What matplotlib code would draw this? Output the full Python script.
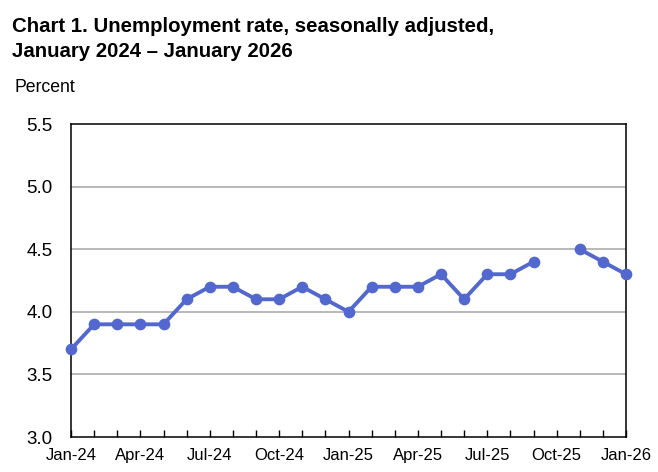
#!/usr/bin/env python3

import numpy as np
import matplotlib.pyplot as plt

plt.rc('font', family=['Liberation Sans', 'DejaVu Sans'])

# monthly unemployment rate, Jan 2024 .. Jan 2026 (Oct 2025 not published)
months = ['Jan-24', 'Feb-24', 'Mar-24', 'Apr-24', 'May-24', 'Jun-24',
          'Jul-24', 'Aug-24', 'Sep-24', 'Oct-24', 'Nov-24', 'Dec-24',
          'Jan-25', 'Feb-25', 'Mar-25', 'Apr-25', 'May-25', 'Jun-25',
          'Jul-25', 'Aug-25', 'Sep-25', 'Oct-25', 'Nov-25', 'Dec-25',
          'Jan-26']
rate = [3.7, 3.9, 3.9, 3.9, 3.9, 4.1,
        4.2, 4.2, 4.1, 4.1, 4.2, 4.1,
        4.0, 4.2, 4.2, 4.2, 4.3, 4.1,
        4.3, 4.3, 4.4, np.nan, 4.5, 4.4,
        4.3]
yticks = [3.0, 3.5, 4.0, 4.5, 5.0, 5.5]

W, H = 658, 472
fig = plt.figure(figsize=(W / 100, H / 100), dpi=100)

# plot box in pixel coords
left, right, top, bottom = 71, 626, 124, 437
ax = fig.add_axes([left / W, (H - bottom) / H, (right - left) / W, (bottom - top) / H])

x = np.arange(len(months))
ax.plot(x, rate, color='#5268CE', lw=2.8, marker='o', markersize=7.4,
        solid_capstyle='round', zorder=3, clip_on=False)

ax.set_xlim(0, len(months) - 1)
ax.set_ylim(3.0, 5.5)
ax.set_yticks(yticks)
ax.set_yticklabels(['{:.1f}'.format(v) for v in yticks], fontsize=13.5)
ax.tick_params(axis='y', length=0, pad=13)
ax.set_xticks(x)
ax.set_xticklabels([m if i % 3 == 0 else '' for i, m in enumerate(months)], fontsize=12)
ax.tick_params(axis='x', direction='in', length=5, width=1, pad=8)

for v in yticks[1:-1]:
    ax.axhline(v, color='#A6A6A6', lw=1.1, zorder=1)
for s in ax.spines.values():
    s.set_linewidth(1.1)
    s.set_color('black')
    s.set_zorder(2)

fig.text(12 / W, 1 - 32 / H, 'Chart 1. Unemployment rate, seasonally adjusted,',
         fontsize=14.7, fontweight='bold', va='baseline')
fig.text(12 / W, 1 - 57 / H, 'January 2024 \u2013 January 2026',
         fontsize=14.7, fontweight='bold', va='baseline')
fig.text(15 / W, 1 - 92 / H, 'Percent', fontsize=12.7, va='baseline')

fig.savefig('out.png', dpi=100)
